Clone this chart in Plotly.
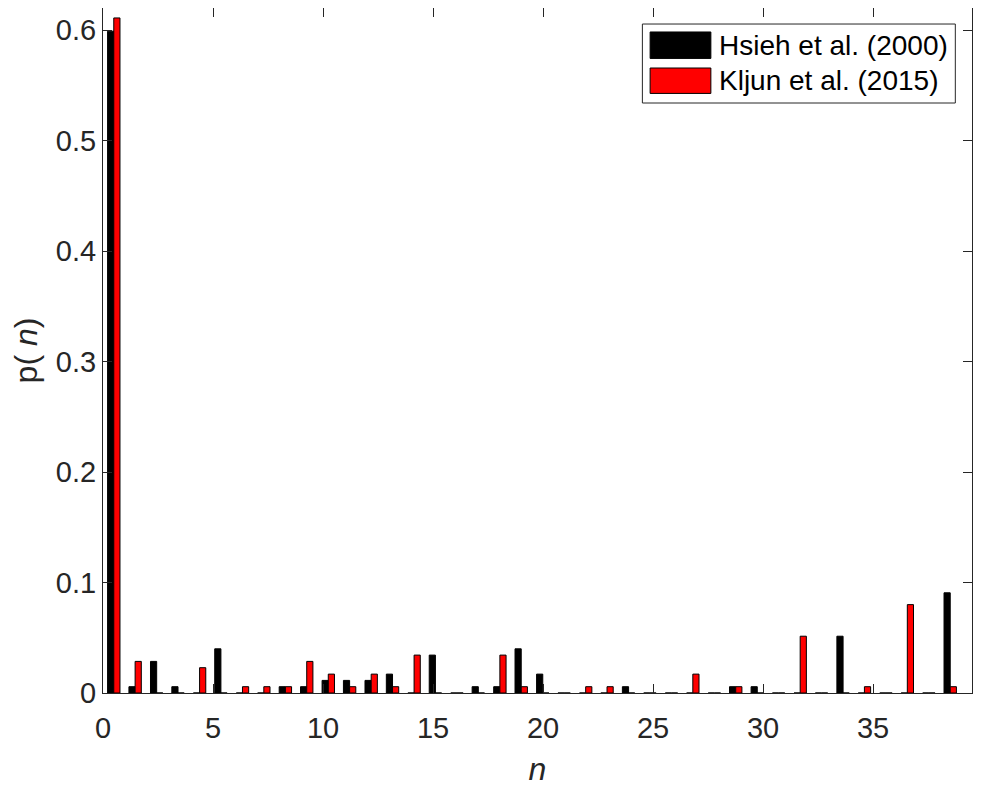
import plotly.graph_objects as go

# bin centres of n (40 bins)
n_centers = [0.49, 1.46, 2.44, 3.41, 4.39, 5.36, 6.34, 7.31, 8.29, 9.26,
             10.24, 11.21, 12.19, 13.16, 14.14, 15.11, 16.09, 17.06, 18.04, 19.01,
             19.99, 20.96, 21.94, 22.91, 23.89, 24.86, 25.84, 26.81, 27.79, 28.76,
             29.74, 30.71, 31.69, 32.66, 33.64, 34.61, 35.59, 36.56, 37.54, 38.51]
p_hsieh = [0.599, 0.0057, 0.0286, 0.0057, 0, 0.04, 0, 0, 0.0057, 0.0057,
           0.0114, 0.0114, 0.0114, 0.0171, 0, 0.0343, 0, 0.0057, 0.0057, 0.04,
           0.0171, 0, 0, 0, 0.0057, 0, 0, 0, 0, 0.0057,
           0.0057, 0, 0, 0, 0.0514, 0, 0, 0, 0, 0.0907]
p_kljun = [0.611, 0.0286, 0, 0, 0.0229, 0, 0.0057, 0.0057, 0.0057, 0.0286,
           0.0171, 0.0057, 0.0171, 0.0057, 0.0343, 0, 0, 0, 0.0343, 0.0057,
           0, 0, 0.0057, 0.0057, 0, 0, 0, 0.0171, 0, 0.0057,
           0, 0, 0.0514, 0, 0, 0.0057, 0, 0.08, 0, 0.0057]
series_names = ['Hsieh et al. (2000)', 'Kljun et al. (2015)']
series_colors = ['#000000', '#ff0000']
x_ticks = [0, 5, 10, 15, 20, 25, 30, 35]
y_ticks = [0, 0.1, 0.2, 0.3, 0.4, 0.5, 0.6]

FONT = 'Helvetica, "Liberation Sans", Arial, sans-serif'
AX = '#262626'

fig = go.Figure()
for name, vals, col in zip(series_names, [p_hsieh, p_kljun], series_colors):
    fig.add_trace(go.Bar(x=n_centers, y=vals, name=name, marker=dict(color=col, line=dict(color='black', width=1)),
                         showlegend=False))

axis_common = dict(showline=True, linecolor=AX, linewidth=1, mirror='ticks', ticks='inside', ticklen=9,
                   tickcolor=AX, tickwidth=1, showgrid=False, zeroline=False, automargin=False,
                   tickfont=dict(size=29, color=AX, family=FONT))
fig.update_xaxes(range=[0, 39.5], tickvals=x_ticks, ticklabelstandoff=9,
                 title=dict(text='<i>n</i>', font=dict(size=32, color=AX, family=FONT), standoff=14), **axis_common)
fig.update_yaxes(range=[0, 0.62], tickvals=y_ticks,
                 title=dict(text='p(<i> n</i>)', font=dict(size=32, color=AX, family=FONT), standoff=14), **axis_common)

# legend drawn by hand so the swatches get MATLAB's wide boxes
shapes = [dict(type='rect', xref='paper', yref='paper', x0=0.6207, x1=0.9808, y0=0.8613, y1=0.9766,
               line=dict(color=AX, width=1), fillcolor='white', layer='above')]
annos = []
for i, (name, col) in enumerate(zip(series_names, series_colors)):
    y0, y1 = [(0.9264, 0.965), (0.8753, 0.9124)][i]
    shapes.append(dict(type='rect', xref='paper', yref='paper', x0=0.6296, x1=0.6995, y0=y0, y1=y1,
                       line=dict(color='black', width=1), fillcolor=col, layer='above'))
    annos.append(dict(xref='paper', yref='paper', x=0.7071, y=(y0 + y1) / 2, xanchor='left', yanchor='middle',
                      text=name, showarrow=False, font=dict(size=28, color='black', family=FONT)))

# page body has an 8px margin, so margins are shifted to land the axes where the reference has them
fig.update_layout(width=981, height=786, barmode='group', bargap=0.42, bargroupgap=0,
                  plot_bgcolor='white', paper_bgcolor='white', font=dict(family=FONT, color=AX),
                  margin=dict(l=95, r=17, t=0, b=101), shapes=shapes, annotations=annos)
fig.write_html("out.html")
